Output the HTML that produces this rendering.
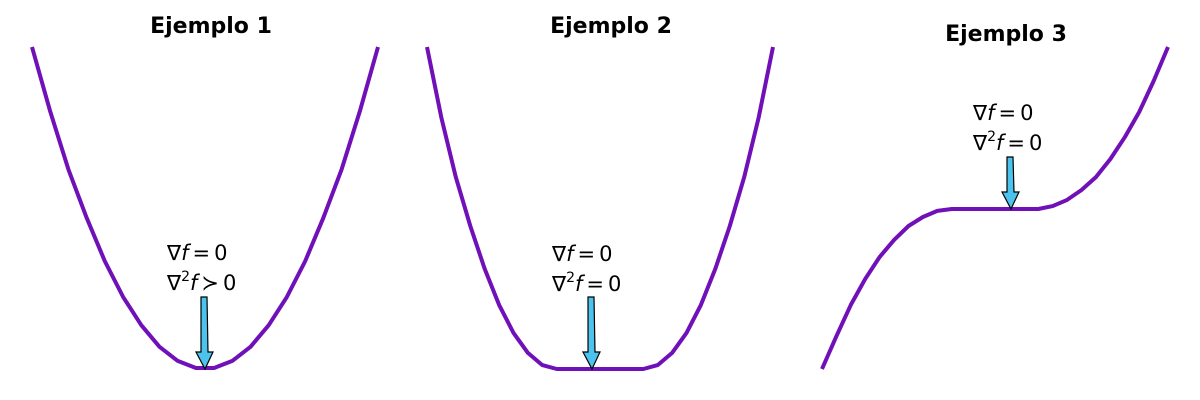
<!DOCTYPE html>
<html><head><meta charset="utf-8"><style>
html,body{margin:0;padding:0;background:#fff;}
svg{display:block;font-family:"DejaVu Sans","Liberation Sans",sans-serif;}
.t{font-weight:bold;font-size:22px;text-anchor:middle;}
.a{font-size:21px;}
</style></head><body>
<svg id="c" width="1200" height="400" viewBox="0 0 1200 400"></svg>
<script>
// Panel 1: f = x^2 on 20 samples
const p1Values = [1, .80, .62, .47, .335, .224, .136, .069, .025, .003, .003, .025, .069, .136, .224, .335, .47, .62, .80, 1];
// Panel 2: flat-bottom quartic-like, 25 samples
const p2Values = [1, .78, .596, .444, .311, .199, .112, .050, .012, 0, 0, 0, 0, 0, 0, 0, .012, .050, .112, .199, .311, .444, .596, .78, 1];
// Panel 3: cubic with plateau, 25 samples
const p3Values = [0, .102, .199, .280, .348, .401, .444, .472, .491, .497, .497, .497, .497, .497, .497, .497, .506, .525, .556, .596, .652, .720, .798, .894, 1];
const titles = ["Ejemplo 1", "Ejemplo 2", "Ejemplo 3"];
const relations = ["≻", "=", "="];

const NS = "http://www.w3.org/2000/svg";
const svg = document.getElementById("c");
function mk(tag, attrs, parent){const e=document.createElementNS(NS,tag);for(const k in attrs)e.setAttribute(k,attrs[k]);(parent||svg).appendChild(e);return e;}
function span(parent, txt, attrs){const s=mk("tspan",attrs||{},parent);s.textContent=txt;return s;}

const panels = [
 {vals:p1Values, x0:32, x1:378, tx:211, ty:33, ax:167, ay:260, arX:204, arTop:297, arTip:369},
 {vals:p2Values, x0:427, x1:773, tx:611, ty:33, ax:552, ay:261, arX:591, arTop:297, arTip:369},
 {vals:p3Values, x0:822, x1:1168, tx:1006, ty:41, ax:973, ay:120, arX:1010, arTop:157, arTip:209}
];
const yTop = 47, yBot = 369;
function yScale(v){return yBot - v*(yBot-yTop);}

panels.forEach((p,i)=>{
  const g = mk("g",{});
  
  
  const n = p.vals.length;
  const xScale = k => p.x0 + k*(p.x1-p.x0)/(n-1);
  const pts = p.vals.map((v,k)=>xScale(k).toFixed(1)+","+yScale(v).toFixed(1)).join(" ");
  const pl = mk("polyline",{points:pts,fill:"none",stroke:"#7010b8","stroke-width":4,"stroke-linejoin":"round"},g);
  
  
  const t = mk("text",{x:p.tx,y:p.ty,class:"t"},g); t.textContent = titles[i];
  
  
  const a1 = mk("text",{x:p.ax,y:p.ay,class:"a"},g);
  span(a1,"∇"); span(a1,"f",{"font-style":"italic"}); span(a1,"=",{dx:4}); span(a1,"0",{dx:4});
  
  
  const a2 = mk("text",{x:p.ax,y:p.ay+30,class:"a"},g);
  span(a2,"∇"); span(a2,"2",{"font-size":"14px",dy:-9}); span(a2,"f",{"font-style":"italic",dy:9}); span(a2,relations[i],{dx:4}); span(a2,"0",{dx:4});
  
  
  const x=p.arX, hs=p.arTip-17;
  const ar = mk("polygon",{points:`${x-3},${p.arTop} ${x+3},${p.arTop} ${x+4},${hs} ${x+9},${hs} ${x+1},${p.arTip} ${x-8},${hs} ${x-3},${hs}`,fill:"#4cc3ec",stroke:"#000","stroke-width":1.2},g);
  
  
});
</script>
</body></html>
